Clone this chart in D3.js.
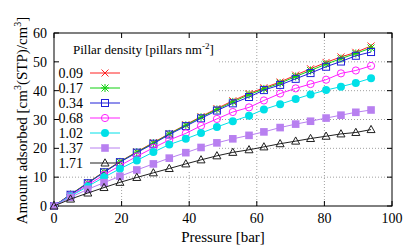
<!DOCTYPE html>
<html>
<head>
<meta charset="utf-8">
<script src="https://cdn.jsdelivr.net/npm/d3@7"></script>
</head>
<body style="margin:0">
<div id="chart"></div>
<script>
// pressure points (bar), same for every pillar density
var pressure = [0, 4.9, 10.0, 14.8, 19.5, 24.5, 29.4, 34.1, 39.0, 43.5, 48.2, 52.9, 57.7, 62.1, 66.9, 71.5, 75.9, 80.5, 84.9, 89.3, 93.8];

var densities = ["0.09", "0.17", "0.34", "0.68", "1.02", "1.37", "1.71"];

var uptake009 = [0, 4.0, 8.1, 11.9, 15.4, 18.8, 22.0, 25.1, 28.2, 31.0, 33.8, 36.5, 39.0, 41.0, 43.0, 45.4, 47.6, 49.8, 51.7, 53.3, 55.5];
var uptake017 = [0, 4.0, 8.0, 11.8, 15.3, 18.7, 21.8, 25.0, 28.0, 30.8, 33.5, 36.1, 38.6, 40.6, 42.6, 44.9, 47.0, 49.2, 51.1, 52.9, 54.8];
var uptake034 = [0, 3.9, 7.9, 11.7, 15.2, 18.5, 21.6, 24.8, 27.7, 30.4, 33.1, 35.6, 37.8, 40.2, 42.0, 44.1, 46.1, 48.3, 50.1, 52.1, 53.4];
var uptake068 = [0, 3.6, 7.3, 10.8, 14.0, 17.2, 20.2, 22.9, 25.2, 27.8, 30.2, 32.6, 34.2, 36.6, 39.0, 40.8, 42.3, 43.8, 46.0, 47.0, 48.6];
var uptake102 = [0, 3.4, 6.8, 10.0, 12.9, 15.8, 18.7, 21.3, 23.3, 25.3, 27.4, 29.4, 31.3, 33.5, 35.3, 37.1, 38.7, 40.2, 41.4, 42.7, 44.3];
var uptake137 = [0, 3.0, 5.8, 8.1, 10.3, 12.5, 14.6, 16.6, 18.5, 20.3, 21.9, 23.3, 24.5, 25.7, 27.2, 28.4, 29.4, 30.5, 31.5, 32.5, 33.3];
var uptake171 = [0, 2.4, 4.5, 6.4, 8.2, 9.9, 11.5, 13.0, 14.6, 16.0, 17.4, 18.6, 19.5, 20.5, 21.6, 22.5, 23.4, 24.2, 25.0, 25.5, 26.5];

var xTicks = [0, 20, 40, 60, 80, 100];
var yTicks = [0, 10, 20, 30, 40, 50, 60];

var seriesStyle = [
	{"color": "#ff2020", "marker": "cross"},
	{"color": "#10d010", "marker": "star"},
	{"color": "#2020d8", "marker": "square"},
	{"color": "#ff20ff", "marker": "circle"},
	{"color": "#00e0e8", "marker": "dot"},
	{"color": "#b880f0", "marker": "box"},
	{"color": "#202020", "marker": "triangle"}
];
var allUptakes = [uptake009, uptake017, uptake034, uptake068, uptake102, uptake137, uptake171];

var serif = "serif";

var width = 415, height = 249;
var margin = {top: 33, right: 23, bottom: 43, left: 54};

var svg = d3.select("#chart")
	.append("svg")
	.attr("width", width)
	.attr("height", height);

var x = d3.scaleLinear().domain([0, 100]).range([margin.left, width - margin.right]);
var y = d3.scaleLinear().domain([0, 60]).range([height - margin.bottom, margin.top]);

// dotted grid
var grid = svg.append("g");
grid.selectAll(".gx").data(xTicks.slice(1, -1)).enter().append("line")
	.attr("x1", d => x(d)).attr("x2", d => x(d))
	.attr("y1", y(0)).attr("y2", y(60))
	.attr("stroke", "#a0a0a0").attr("stroke-width", 1).attr("stroke-dasharray", "1,2");
grid.selectAll(".gy").data(yTicks.slice(1, -1)).enter().append("line")
	.attr("x1", x(0)).attr("x2", x(100))
	.attr("y1", d => y(d)).attr("y2", d => y(d))
	.attr("stroke", "#a0a0a0").attr("stroke-width", 1).attr("stroke-dasharray", "1,2");

// opaque key box hides the grid behind it
svg.append("rect")
	.attr("x", x(0) + 1).attr("y", y(60) + 1)
	.attr("width", 164).attr("height", 136)
	.attr("fill", "white");

// frame and inward ticks on all four sides (labels drawn separately)
svg.append("rect")
	.attr("x", x(0)).attr("y", y(60))
	.attr("width", x(100) - x(0)).attr("height", y(0) - y(60))
	.attr("fill", "none").attr("stroke", "black").attr("stroke-width", 1);
var ticks = svg.append("g").attr("stroke", "black").attr("stroke-width", 1);
ticks.selectAll(".tb").data(xTicks).enter().append("line")
	.attr("x1", d => x(d)).attr("x2", d => x(d)).attr("y1", y(0)).attr("y2", y(0) - 5);
ticks.selectAll(".tt").data(xTicks).enter().append("line")
	.attr("x1", d => x(d)).attr("x2", d => x(d)).attr("y1", y(60)).attr("y2", y(60) + 5);
ticks.selectAll(".tl").data(yTicks).enter().append("line")
	.attr("x1", x(0)).attr("x2", x(0) + 5).attr("y1", d => y(d)).attr("y2", d => y(d));
ticks.selectAll(".tr").data(yTicks).enter().append("line")
	.attr("x1", x(100)).attr("x2", x(100) - 5).attr("y1", d => y(d)).attr("y2", d => y(d));

svg.selectAll(".xlabel").data(xTicks).enter().append("text")
	.attr("x", d => x(d)).attr("y", y(0) + 17)
	.attr("text-anchor", "middle")
	.attr("font-family", serif).attr("font-size", 14)
	.text(d => d);
svg.selectAll(".ylabel").data(yTicks).enter().append("text")
	.attr("x", x(0) - 7).attr("y", d => y(d) + 5)
	.attr("text-anchor", "end")
	.attr("font-family", serif).attr("font-size", 14)
	.text(d => d);

function drawMarker(g, type, color, cx, cy) {
	if(type == "cross" || type == "star") {
		g.append("path")
			.attr("d", "M" + (cx - 3.5) + "," + (cy - 3.5) + "L" + (cx + 3.5) + "," + (cy + 3.5) +
				"M" + (cx - 3.5) + "," + (cy + 3.5) + "L" + (cx + 3.5) + "," + (cy - 3.5))
			.attr("stroke", color).attr("stroke-width", 1).attr("fill", "none");
		if(type == "star") {
			g.append("path")
				.attr("d", "M" + (cx - 4) + "," + cy + "L" + (cx + 4) + "," + cy +
					"M" + cx + "," + (cy - 4) + "L" + cx + "," + (cy + 4))
				.attr("stroke", color).attr("stroke-width", 1).attr("fill", "none");
		}
	} else if(type == "square") {
		g.append("rect").attr("x", cx - 3.5).attr("y", cy - 3.5).attr("width", 7).attr("height", 7)
			.attr("fill", "none").attr("stroke", color).attr("stroke-width", 1);
	} else if(type == "circle") {
		g.append("circle").attr("cx", cx).attr("cy", cy).attr("r", 3.6)
			.attr("fill", "none").attr("stroke", color).attr("stroke-width", 1);
	} else if(type == "dot") {
		g.append("circle").attr("cx", cx).attr("cy", cy).attr("r", 4)
			.attr("fill", color);
	} else if(type == "box") {
		g.append("rect").attr("x", cx - 3.8).attr("y", cy - 3.8).attr("width", 7.6).attr("height", 7.6)
			.attr("fill", color);
	} else if(type == "triangle") {
		g.append("path")
			.attr("d", "M" + cx + "," + (cy - 4.2) + "L" + (cx + 4) + "," + (cy + 3) + "L" + (cx - 4) + "," + (cy + 3) + "Z")
			.attr("fill", "none").attr("stroke", color).attr("stroke-width", 1);
	}
}

// data lines and points
var line = d3.line()
	.x(function(d, i) { return x(pressure[i]); })
	.y(function(d) { return y(d); });

for(var s = 0; s < allUptakes.length; s++) {
	var g = svg.append("g");
	var style = seriesStyle[s];
	g.append("path")
		.datum(allUptakes[s])
		.attr("fill", "none")
		.attr("stroke", style.color)
		.attr("stroke-width", 1)
		.attr("d", line);
	for(var i = 0; i < pressure.length; i++) {
		drawMarker(g, style.marker, style.color, x(pressure[i]), y(allUptakes[s][i]));
	}
}

// key
var key = svg.append("g");
var keyTitle = key.append("text")
	.attr("x", 73).attr("y", 54)
	.attr("font-family", serif)
	.attr("font-size", 13);
keyTitle.append("tspan").text("Pillar density [pillars nm");
keyTitle.append("tspan").attr("dy", -5).attr("font-size", 9).text("-2");
keyTitle.append("tspan").attr("dy", 5).text("]");

for(var k = 0; k < densities.length; k++) {
	var ky = 73 + 15 * k;
	key.append("text")
		.attr("x", 83).attr("y", ky + 5)
		.attr("text-anchor", "end")
		.attr("font-family", serif)
		.attr("font-size", 14)
		.text(densities[k]);
	key.append("line")
		.attr("x1", 90).attr("x2", 120).attr("y1", ky).attr("y2", ky)
		.attr("stroke", seriesStyle[k].color).attr("stroke-width", 1);
	drawMarker(key, seriesStyle[k].marker, seriesStyle[k].color, 105, ky);
}

// axis titles
svg.append("text")
	.attr("x", (x(0) + x(100)) / 2).attr("y", 242)
	.attr("text-anchor", "middle")
	.attr("font-family", serif)
	.attr("font-size", 15)
	.text("Pressure [bar]");

var yTitle = svg.append("text")
	.attr("transform", "translate(27," + ((y(0) + y(60)) / 2 + 1) + ") rotate(-90)")
	.attr("text-anchor", "middle")
	.attr("font-family", serif)
	.attr("font-size", 15);
yTitle.append("tspan").text("Amount adsorbed [cm");
yTitle.append("tspan").attr("dy", -6).attr("font-size", 10).text("3");
yTitle.append("tspan").attr("dy", 6).text("(STP)/cm");
yTitle.append("tspan").attr("dy", -6).attr("font-size", 10).text("3");
yTitle.append("tspan").attr("dy", 6).text("]");
</script>
</body>
</html>
